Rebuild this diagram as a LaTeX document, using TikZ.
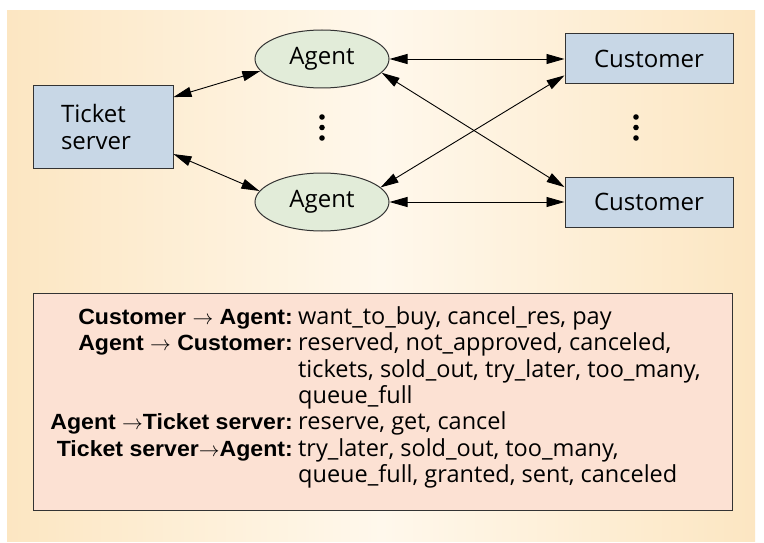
\documentclass[tikz,border=0pt]{standalone}
\usepackage{fontspec}
\setmainfont{Open Sans}
\newfontfamily\labfont[FakeStretch=1.05]{Liberation Sans}
\usetikzlibrary{arrows.meta,shapes.geometric}
\definecolor{bgedge}{HTML}{FCE6C2}
\definecolor{bgmid}{HTML}{FFF8EC}
\definecolor{boxfill}{HTML}{FCE1D3}
\definecolor{bluefill}{HTML}{C8D7E6}
\definecolor{greenfill}{HTML}{E2ECD9}
\definecolor{edgec}{HTML}{333333}
\begin{document}
\begin{tikzpicture}[x=1pt,y=-1pt,
  nodefont/.style={font=\fontsize{24}{27}\selectfont},
  rectnode/.style={draw=edgec, line width=1pt, fill=bluefill, inner sep=0pt, nodefont},
  agentnode/.style={ellipse, draw=edgec, line width=1pt, fill=greenfill, inner sep=0pt,
    minimum width=134pt, minimum height=58pt, nodefont},
  conn/.style={{Triangle[length=18pt,width=10pt]}-{Triangle[length=18pt,width=10pt]}, line width=0.9pt, black},
  lab/.style={anchor=mid east, inner sep=0pt, font=\labfont\bfseries\fontsize{22}{24}\selectfont},
  val/.style={anchor=mid west, inner sep=0pt, font=\fontsize{23.5}{25}\selectfont},
  dotc/.style={fill=black}
]
\useasboundingbox (0,0) rectangle (764,543);
\fill[white] (0,0) rectangle (764,543);
\shade[left color=bgedge, right color=bgedge, middle color=bgmid] (7,11) rectangle (755,541);

% nodes
\node[rectnode, minimum width=140pt, minimum height=82pt, align=left] (ts) at (103,127) {Ticket\hspace*{14pt}\\server\hspace*{14pt}};
\node[agentnode] (a1) at (322,59) {Agent};
\node[agentnode] (a2) at (322,202) {Agent};
\node[rectnode, minimum width=168pt, minimum height=50pt] (c1) at (649,59) {Customer};
\node[rectnode, minimum width=168pt, minimum height=50pt] (c2) at (649,202) {Customer};

% dots
\foreach \yy in {117,127.5,138} {
  \fill[dotc] (322,\yy) circle (2.8);
  \fill[dotc] (636,\yy) circle (2.8);
}

% connectors
\draw[conn] (ts.23) -- (a1.191);
\draw[conn] (ts.-21) -- (a2.170);
\draw[conn] (a1.east) -- (c1.west);
\draw[conn] (a2.east) -- (c2.west);
\draw[conn] (a1.-13) -- (c2.170);
\draw[conn] (a2.14) -- (c1.191);

% table box
\node[draw=edgec, line width=1pt, fill=boxfill, minimum width=699pt, minimum height=217pt, inner sep=0pt] (tbl) at (382.5,401.5) {};

\node[lab] (l1) at (293,322) {Customer $\rightarrow$ Agent:};
\node[lab] (l2) at (293,348) {Agent $\rightarrow$ Customer:};
\node[lab] (l3) at (293,427) {Agent $\rightarrow$Ticket server:};
\node[lab] (l4) at (293,454) {Ticket server$\rightarrow$Agent:};

\node[val] (v1) at (298,322) {want\_to\_buy, cancel\_res, pay};
\node[val] (v2) at (298,348) {reserved, not\_approved, canceled,};
\node[val] (v3) at (298,375) {tickets, sold\_out, try\_later, too\_many,};
\node[val] (v4) at (298,401) {queue\_full};
\node[val] (v5) at (298,427) {reserve, get, cancel};
\node[val] (v6) at (298,454) {try\_later, sold\_out, too\_many,};
\node[val] (v7) at (298,480) {queue\_full, granted, sent, canceled};
\end{tikzpicture}
\end{document}
